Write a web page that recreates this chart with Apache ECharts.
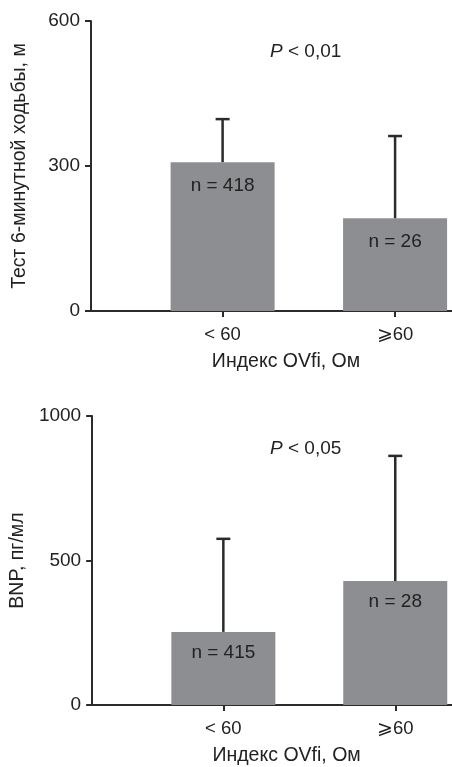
<!DOCTYPE html>
<html>
<head>
<meta charset="utf-8">
<script src="https://cdn.jsdelivr.net/npm/echarts@6/dist/echarts.min.js"></script>
<style>
  html, body { margin: 0; padding: 0; background: #fff; }
  #chart { width: 452px; height: 767px; }
</style>
</head>
<body>
<div id="chart"></div>
<script>
// данные
const categories = ['< 60', '⩾60']
const walkMean = [308, 192]
const walkUpper = [397, 362]
const walkN = ['n = 418', 'n = 26']
const walkTicks = [0, 300, 600]
const bnpMean = [253, 429]
const bnpUpper = [575, 862]
const bnpN = ['n = 415', 'n = 28']
const bnpTicks = [0, 500, 1000]

const FONT = '"Liberation Sans", Arial, sans-serif'
const TEXT = '#222'
const LINE = '#2b2b2b'
const BAR = '#8d8e92'
const catPos = categories.map((c, i) => i + 1)

const chart = echarts.init(document.getElementById('chart'))

const xAxisFor = (gridIndex) => ({
    type: 'value',
    gridIndex,
    min: 0.237,
    max: 2.33,
    name: 'Индекс OVfi, Ом',
    nameLocation: 'middle',
    nameGap: 41,
    nameTextStyle: { color: TEXT, fontSize: 19.5, fontFamily: FONT, padding: [0, 0, 0, 29] },
    axisLine: { show: true, lineStyle: { color: LINE, width: 2 } },
    axisTick: { show: true, length: 6, customValues: catPos, lineStyle: { color: LINE, width: 2 } },
    axisLabel: {
        customValues: catPos,
        margin: 14,
        color: TEXT,
        fontSize: 18.5,
        fontFamily: FONT,
        formatter: (v) => categories[Math.round(v) - 1]
    },
    splitLine: { show: false }
})

const yAxisFor = (gridIndex, ticks, name) => ({
    type: 'value',
    gridIndex,
    min: ticks[0],
    max: ticks[ticks.length - 1],
    interval: ticks[1] - ticks[0],
    name,
    nameLocation: 'middle',
    nameGap: 61,
    nameTextStyle: { color: TEXT, fontSize: 19.5, fontFamily: FONT },
    axisLine: { show: true, lineStyle: { color: LINE, width: 2 } },
    axisTick: { show: true, length: 6, lineStyle: { color: LINE, width: 2 } },
    axisLabel: { margin: 11, color: TEXT, fontSize: 19, fontFamily: FONT, formatter: (v) => String(v) },
    splitLine: { show: false }
})

// планка ошибок: от верха столбца до верхнего значения + засечка
const errorItem = (params, api) => {
    const x = api.value(0)
    const p0 = api.coord([x, api.value(1)])
    const p1 = api.coord([x, api.value(2)])
    const cap = 7
    const style = { stroke: LINE, lineWidth: 2.5 }
    return {
        type: 'group',
        children: [
            { type: 'line', shape: { x1: p0[0], y1: p0[1], x2: p1[0], y2: p1[1] }, style },
            { type: 'line', shape: { x1: p1[0] - cap, y1: p1[1], x2: p1[0] + cap, y2: p1[1] }, style }
        ]
    }
}

const barSeries = (idx, mean, nLabels, dist) => ({
    type: 'bar',
    xAxisIndex: idx,
    yAxisIndex: idx,
    barWidth: 104,
    itemStyle: { color: BAR },
    label: {
        show: true,
        position: 'insideTop',
        distance: dist,
        color: TEXT,
        fontSize: 19,
        fontFamily: FONT,
        formatter: (p) => nLabels[p.dataIndex]
    },
    data: mean.map((v, i) => [catPos[i], v])
})

const errSeries = (idx, mean, upper) => ({
    type: 'custom',
    xAxisIndex: idx,
    yAxisIndex: idx,
    z: 3,
    renderItem: errorItem,
    data: mean.map((v, i) => [catPos[i], v, upper[i]])
})

const pTitle = (text, top) => ({
    text,
    left: 270,
    top,
    padding: 0,
    textStyle: {
        color: TEXT,
        fontSize: 19,
        fontWeight: 'normal',
        fontFamily: FONT,
        rich: { i: { fontStyle: 'italic', fontSize: 19, fontFamily: FONT, color: TEXT } }
    }
})

const option = {
    animation: false,
    backgroundColor: '#fff',
    title: [
        pTitle('{i|P} < 0,01', 42),
        pTitle('{i|P} < 0,05', 439)
    ],
    grid: [
        { left: 91, right: 0, top: 21, height: 290 },
        { left: 91, right: 0, top: 416, height: 291 }
    ],
    xAxis: [xAxisFor(0), xAxisFor(1)],
    yAxis: [
        yAxisFor(0, walkTicks, 'Тест 6-минутной ходьбы, м'),
        yAxisFor(1, bnpTicks, 'BNP, пг/мл')
    ],
    series: [
        barSeries(0, walkMean, walkN, 14),
        errSeries(0, walkMean, walkUpper),
        barSeries(1, bnpMean, bnpN, 11),
        errSeries(1, bnpMean, bnpUpper)
    ]
}

chart.setOption(option)
</script>
</body>
</html>
